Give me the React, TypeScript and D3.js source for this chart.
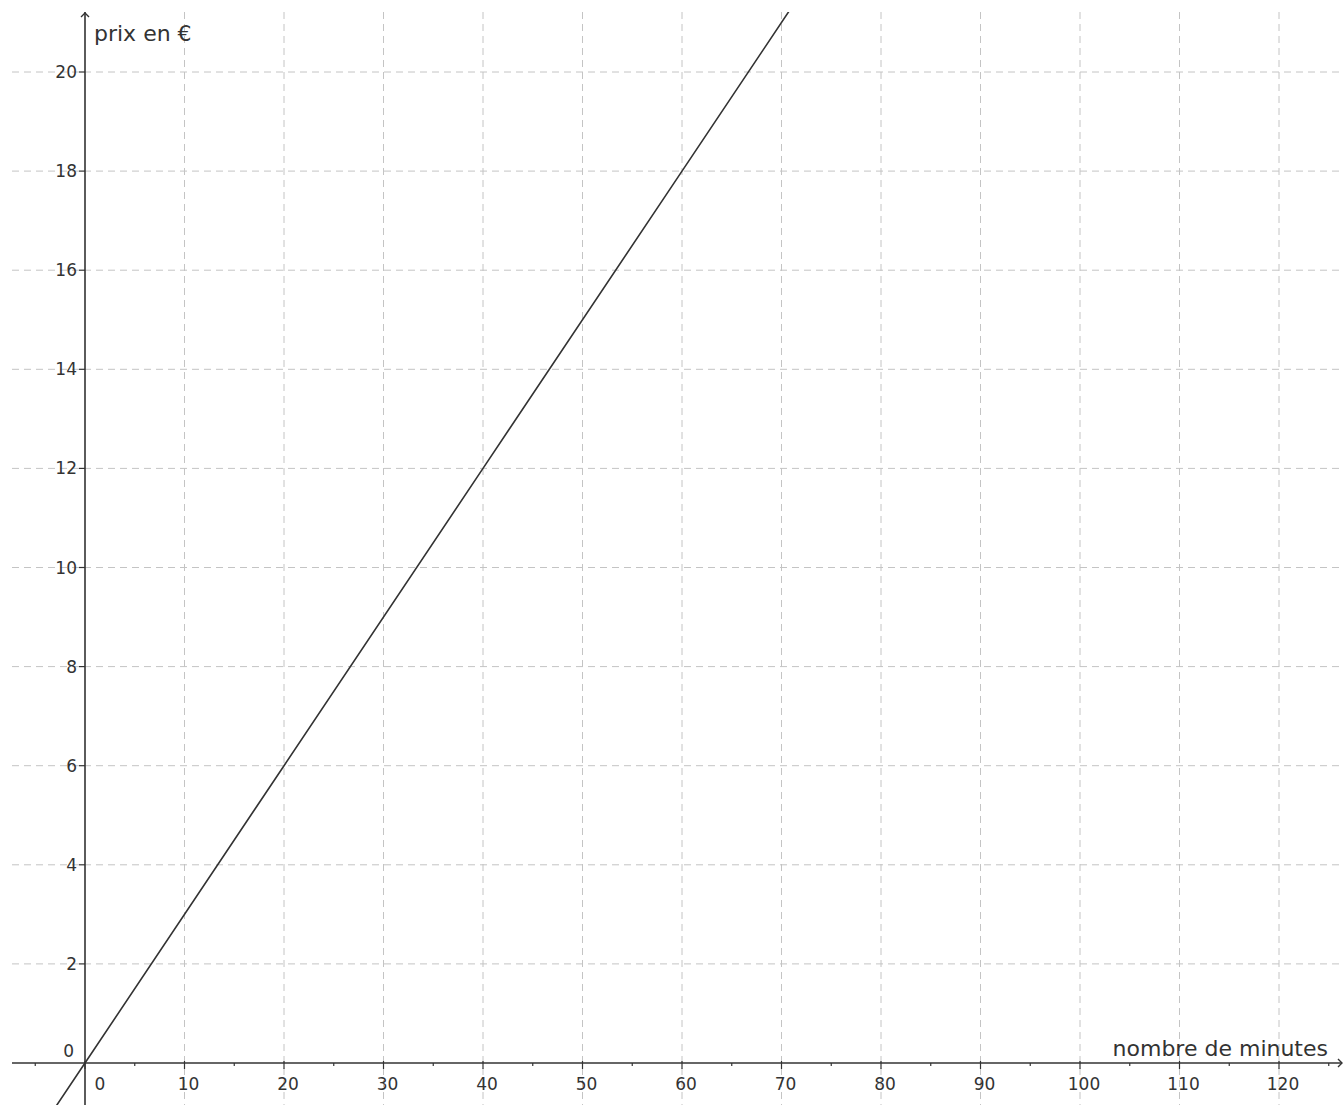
import React from "react";
import * as d3 from "d3";

const minutes = [-10, 0, 20, 40, 60, 80];
const prices = [-3, 0, 6, 12, 18, 24];
const xTicks = [0, 10, 20, 30, 40, 50, 60, 70, 80, 90, 100, 110, 120];
const xMinorTicks = [-5, 5, 15, 25, 35, 45, 55, 65, 75, 85, 95, 105, 115, 125];
const yTicks = [2, 4, 6, 8, 10, 12, 14, 16, 18, 20];
const xGrid = [10, 20, 30, 40, 50, 60, 70, 80, 90, 100, 110, 120];
const yGrid = [2, 4, 6, 8, 10, 12, 14, 16, 18, 20];
const xTitle = "nombre de minutes";
const yTitle = "prix en €";

const W = 1343;
const H = 1105;

export default function App() {
  const x = d3.scaleLinear().domain([0, 120]).range([85, 1279]);
  const y = d3.scaleLinear().domain([0, 20]).range([1063, 72]);
  const left = 12;
  const top = 12;
  const line = d3
    .line<number>()
    .x((_, i) => x(minutes[i]))
    .y((d) => y(d));
  const font = "'DejaVu Sans', sans-serif";
  const grid = "#c4c4c4";
  const axis = "#333";
  return (
    <svg
      width={W}
      height={H}
      style={{ position: "absolute", left: 0, top: 0, background: "#fff" }}
    >
      <defs>
        <clipPath id="plot">
          <rect x={left} y={top} width={W - left} height={H - top} />
        </clipPath>
      </defs>
      <g>
        {xGrid.map((v) => (
          <line
            key={"gx" + v}
            x1={x(v)}
            x2={x(v)}
            y1={top}
            y2={H}
            stroke={grid}
            strokeWidth={1}
            strokeDasharray="7,5"
          />
        ))}
        {yGrid.map((v) => (
          <line
            key={"gy" + v}
            x1={left}
            x2={W}
            y1={y(v)}
            y2={y(v)}
            stroke={grid}
            strokeWidth={1}
            strokeDasharray="7,5"
          />
        ))}
      </g>
      <path
        d={line(prices) || ""}
        fill="none"
        stroke="#333"
        strokeWidth={1.6}
        clipPath="url(#plot)"
      />
      {/* x axis */}
      <line x1={left} x2={W - 1} y1={y(0)} y2={y(0)} stroke={axis} strokeWidth={1.6} />
      <path
        d={`M${W - 5},${y(0) - 4} L${W - 1},${y(0)} L${W - 5},${y(0) + 4}`}
        fill="none"
        stroke={axis}
        strokeWidth={1.4}
      />
      {xTicks.map((v) => (
        <line key={"tx" + v} x1={x(v)} x2={x(v)} y1={y(0) - 2} y2={y(0) + 6} stroke={axis} strokeWidth={1.2} />
      ))}
      {xMinorTicks.map((v) => (
        <line key={"mx" + v} x1={x(v)} x2={x(v)} y1={y(0)} y2={y(0) + 3} stroke={axis} strokeWidth={1.2} />
      ))}
      {xTicks.map((v) => (
        <text
          key={"lx" + v}
          x={v === 0 ? x(v) + 15 : x(v) + 4}
          y={y(0) + 27}
          textAnchor="middle"
          fontFamily={font}
          fontSize={17}
          fill="#333"
        >
          {v}
        </text>
      ))}
      {/* y axis */}
      <line x1={x(0)} x2={x(0)} y1={top} y2={H} stroke={axis} strokeWidth={1.6} />
      <path
        d={`M${x(0) - 4},${top + 5} L${x(0)},${top + 1} L${x(0) + 4},${top + 5}`}
        fill="none"
        stroke={axis}
        strokeWidth={1.4}
      />
      {yTicks.map((v) => (
        <line key={"ty" + v} x1={x(0) - 6} x2={x(0)} y1={y(v)} y2={y(v)} stroke={axis} strokeWidth={1.2} />
      ))}
      {yTicks.map((v) => (
        <text
          key={"ly" + v}
          x={x(0) - 8}
          y={y(v) + 6}
          textAnchor="end"
          fontFamily={font}
          fontSize={17}
          fill="#333"
        >
          {v}
        </text>
      ))}
      <text x={x(0) - 11} y={y(0) - 6} textAnchor="end" fontFamily={font} fontSize={17} fill="#333">
        0
      </text>
      <text x={x(0) + 9} y={top + 29} fontFamily={font} fontSize={22} fill="#333">
        {yTitle}
      </text>
      <text x={W - 15} y={y(0) - 7} textAnchor="end" fontFamily={font} fontSize={22} fill="#333">
        {xTitle}
      </text>
    </svg>
  );
}
